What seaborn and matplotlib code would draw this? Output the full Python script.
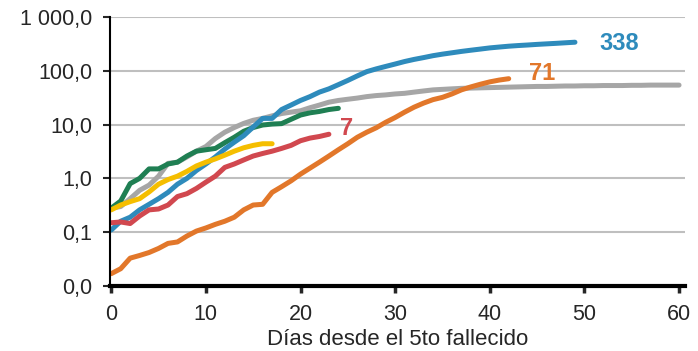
import numpy as np
import pandas as pd
import seaborn as sns
import matplotlib.pyplot as plt
from matplotlib.ticker import FixedLocator, FuncFormatter, NullLocator

# valores (por dia desde el 5to fallecido)
azul = [0.11, 0.16, 0.19, 0.26, 0.33, 0.42, 0.55, 0.78, 1.0, 1.4, 1.85, 2.5, 3.5, 4.7, 6.2,
        9.0, 13, 13, 19, 23, 28, 33, 40, 46, 55, 66, 80, 96, 108, 120, 133, 148, 162, 175,
        190, 203, 215, 228, 240, 252, 265, 275, 285, 293, 300, 308, 315, 322, 330, 338]
gris = [0.28, 0.30, 0.42, 0.6, 0.75, 1.1, 1.9, 2.0, 2.5, 3.2, 3.9, 5.5, 7.2, 8.8, 10.5, 12,
        13, 14.5, 16, 17, 18, 20.5, 23, 26, 28, 29.5, 31, 33, 34.5, 35.5, 37, 38, 40, 42, 44,
        45, 46, 47, 47.5, 48, 48.5, 49, 49.5, 50, 50.5, 51, 51, 51.5, 52, 52, 52.5, 52.5, 53,
        53, 53, 53.5, 53.5, 54, 54, 54, 54]
naranja = [0.017, 0.021, 0.033, 0.037, 0.042, 0.050, 0.062, 0.066, 0.085, 0.105, 0.12, 0.14,
           0.16, 0.19, 0.26, 0.32, 0.33, 0.55, 0.7, 0.9, 1.2, 1.55, 2.0, 2.6, 3.4, 4.4, 5.8,
           7.2, 8.7, 11, 13.5, 17, 21, 25, 29, 32, 37, 44, 50, 56, 62, 67, 71]
verde = [0.28, 0.38, 0.8, 1.0, 1.5, 1.5, 1.85, 2.0, 2.6, 3.2, 3.4, 3.6, 4.6, 5.8, 7.5, 8.8,
         9.8, 10.2, 10.4, 12.5, 15, 16.5, 17.5, 19, 20]
amarillo = [0.26, 0.32, 0.37, 0.42, 0.56, 0.78, 0.95, 1.1, 1.35, 1.7, 2.0, 2.3, 2.7, 3.2,
            3.7, 4.1, 4.4, 4.4]
rojo = [0.15, 0.155, 0.145, 0.20, 0.26, 0.27, 0.32, 0.46, 0.52, 0.65, 0.85, 1.1, 1.6, 1.85,
        2.2, 2.6, 2.9, 3.2, 3.6, 4.1, 5.0, 5.6, 6.0, 6.6]

series = {'gris': gris, 'verde': verde, 'azul': azul, 'rojo': rojo,
          'amarillo': amarillo, 'naranja': naranja}
colores = {'gris': '#A6A6A6', 'verde': '#1F7F53', 'azul': '#2E8BBC', 'rojo': '#D1484F',
           'amarillo': '#F5BE00', 'naranja': '#E2772A'}
etiquetas = [('azul', '338'), ('naranja', '71'), ('rojo', '7')]

df = pd.concat([pd.DataFrame({'dia': np.arange(len(v)), 'valor': v, 'serie': k})
                for k, v in series.items()], ignore_index=True)

sns.set_style('white')
plt.rcParams['font.family'] = ['Liberation Sans', 'DejaVu Sans']

fig = plt.figure(figsize=(6.98, 3.51), dpi=100)
ax = fig.add_axes([0.158, 0.185, 0.823, 0.767])

sns.lineplot(data=df, x='dia', y='valor', hue='serie', palette=colores,
             linewidth=3.6, legend=False, ax=ax, solid_capstyle='round',
             solid_joinstyle='round')

ax.set_yscale('log')
ax.set_ylim(0.01, 1000)
ax.set_xlim(-0.1, 60.6)
ax.yaxis.set_major_locator(FixedLocator([0.01, 0.1, 1, 10, 100, 1000]))
ax.yaxis.set_minor_locator(NullLocator())
ax.yaxis.set_major_formatter(FuncFormatter(
    lambda v, p: f"{v:,.1f}".replace(',', ' ').replace('.', ',')))
ax.set_xticks(range(0, 61, 10))
ax.grid(axis='y', color='#BFBFBF', linewidth=1.5)
ax.set_axisbelow(True)

for s in ['top', 'right']:
    ax.spines[s].set_visible(False)
ax.spines['left'].set_color('black')
ax.spines['left'].set_linewidth(1.5)
ax.spines['bottom'].set_color('black')
ax.spines['bottom'].set_linewidth(3)
ax.tick_params(axis='y', direction='out', length=5, width=1.5, labelsize=15.5, pad=8, left=True)
ax.tick_params(axis='x', direction='out', length=5, width=2.5, labelsize=15.5, pad=8, bottom=True)

ax.set_xlabel('Días desde el 5to fallecido', fontsize=16, labelpad=3)
ax.set_ylabel('')

pos = {'azul': (53.7, 320), 'naranja': (45.5, 88), 'rojo': (24.9, 8.6)}
for k, txt in etiquetas:
    ax.text(pos[k][0], pos[k][1], txt, color=colores[k], fontsize=17, fontweight='bold',
            ha='center', va='center')

fig.savefig('out.png', dpi=100)
